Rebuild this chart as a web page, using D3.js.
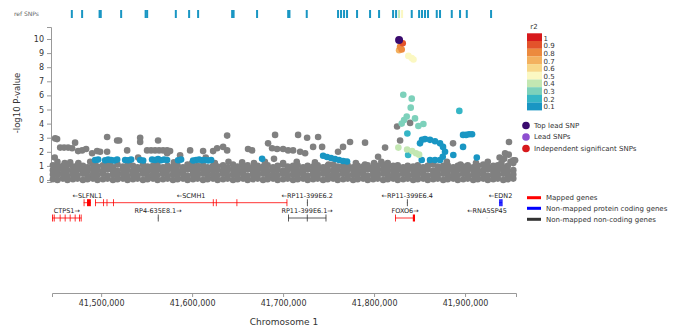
<!DOCTYPE html>
<html><head><meta charset="utf-8">
<script src="https://cdn.jsdelivr.net/npm/d3@7"></script>
<style>body{margin:0;background:#fff} text{font-family:"DejaVu Sans",sans-serif}</style>
</head><body><svg id="c" width="678" height="329"></svg>
<script>
// ---------- data (positions in kb on chromosome 1) ----------
const refPos = [41467.8,41479.1,41498.3,41499.6,41522.0,41548.9,41550.6,41582.1,41596.7,41606.6,41644.0,41645.6,41671.4,41705.6,41707.0,41726.0,41760.4,41763.7,41767.0,41770.3,41781.3,41795.6,41805.5,41820.9,41824.2,41827.5,41830.8,41841.4,41849.5,41852.7,41856.0,41859.3,41868.9,41872.5,41885.4,41894.5,41901.9,41928.6];
const refR2  = [0.1,0.1,0.1,0.1,0.1,0.1,0.1,0.1,0.1,0.1,0.1,0.1,0.1,0.1,0.1,0.1,0.1,0.1,0.1,0.1,0.1,0.1,0.1,0.1,0.1,0.4,0.55,0.1,0.1,0.1,0.1,0.1,0.1,0.1,0.1,0.1,0.1,0.1];

const grayBandPos = [41447,41452,41458,41463,41469,41474,41480,41485,41491,41496,41502,41507,41513,41518,41524,41529,41535,41540,41546,41551,41557,41562,41568,41573,41579,41584,41590,41595,41601,41606,41612,41617,41623,41628,41634,41639,41645,41650,41656,41661,41667,41672,41678,41683,41689,41694,41700,41705,41711,41716,41722,41727,41733,41738,41744,41749,41755,41760,41766,41771,41777,41782,41788,41793,41799,41804,41810,41815,41821,41826,41832,41837,41843,41848,41854,41859,41865,41870,41876,41881,41887,41892,41898,41903,41909,41914,41920,41925,41931,41936,41942,41947,41953];
const grayBandVals = [
[.05,.4,.7,1.05],[0,.35,.65,.95],[.1,.45,.75,1.0],[0,.3,.7,1.1],[.05,.4,.65,.95],[.1,.35,.75,1.05],[0,.45,.7,1.0],[.05,.3,.65,.9],[.1,.4,.75,1.1],[0,.35,.7,.95],
[.05,.45,.65,1.05],[.1,.3,.75,1.0],[0,.4,.7,.9],[.05,.35,.65,1.1],[.1,.45,.75,.95],[0,.3,.7,1.05],[.05,.4,.65,1.0],[.1,.35,.75,.9],[0,.45,.7,1.1],[.05,.3,.65,.95],
[.1,.4,.7,1.0],[0,.35,.75,1.05],[.05,.45,.65,.9],[.1,.3,.7,1.0],[0,.4,.75,.95],[.05,.35,.65,1.05],[.1,.45,.7,.9],[0,.3,.75,1.1],[.05,.4,.65,.95],[.1,.35,.7,1.0],
[0,.45,.75,1.05],[.05,.3,.65,.9],[.1,.4,.7,1.0],[0,.35,.75,.95],[.05,.45,.65,1.05],[.1,.3,.7,.9],[0,.4,.75,1.1],[.05,.35,.65,.95],[.1,.45,.7,1.0],[0,.3,.75,1.05],
[.05,.4,.65,.9],[.1,.35,.7,1.0],[0,.45,.75,.95],[.05,.3,.65,1.05],[.1,.4,.7,.9],[0,.35,.75,1.0],[.05,.45,.65,1.1],[.1,.3,.7,.95],[0,.4,.75,1.0],[.05,.35,.65,1.05],
[.1,.45,.7,.9],[0,.3,.75,1.0],[.05,.4,.65,.95],[.1,.35,.7,1.05],[0,.45,.75,.9],[.05,.3,.65,1.0],[.1,.4,.7,1.1],[0,.35,.75,.95],[.05,.45,.65,1.0],[.1,.3,.7,1.05],
[0,.4,.75,.9],[.05,.35,.65,1.0],[.1,.45,.7,.95],[0,.3,.75,1.05],[.05,.4,.65,.9],[.1,.35,.7,1.0],[0,.45,.75,1.1],[.05,.3,.65,.95],[.1,.4,.7,1.0],[0,.35,.75,1.05],
[.05,.45,.65,.9],[.1,.3,.7,1.0],[0,.4,.75,.95],[.05,.35,.65,1.05],[.1,.45,.7,.9],[0,.3,.75,1.0],[.05,.4,.65,1.1],[.1,.35,.7,.95],[0,.45,.75,1.0],[.05,.3,.65,1.05],
[.1,.4,.7,.9],[0,.35,.75,1.0],[.05,.45,.65,.95],[.1,.3,.7,1.05],[0,.4,.75,.9],[.05,.35,.65,1.0],[.1,.45,.7,1.1],[0,.3,.75,.95],[.05,.4,.65,1.0],[.1,.35,.7,1.05],
[0,.45,.75,.9],[.05,.3,.65,1.0],[.1,.4,.7,1.2]];

const grayPos = [41449,41452,41460,41466,41475,41488,41493,41510,41530,41560,41580,41600,41615,41625,41640,41655,41668,41680,41690,41700,41715,41735,41750,41768,41780,41790,41800,41808,41815,41862,41880,41895,41912,41925,41940,41950,41955,
41449.5,41451.6,41455.0,41459.3,41463.7,41468.1,41471.4,41474.7,41479.1,41483.5,41490.1,41495.6,41498.9,41506.6,41506.6,41517.6,41519.8,41528.6,41540.7,41542.9,41542.9,41550.5,41554.9,41559.3,41563.7,41568.1,41572.5,41575.8,41562.6,41572.5,41586.8,41597.8,41612.1,41623.1,41627.5,41638.5,41634.1,41638.5,41661.5,41665.9,41683.5,41691.2,41687.9,41693.4,41700.0,41705.5,41711.0,41716.5,41718.7,41724.2,41726.4,41738.5,41733.0,41742.9,41760.4,41765.9,41773.6,41790.1,41804.4,41812.1,41825.3,41828.6,41839.6,41886.8,41948.3,41944.0,41938,41943,41948,41953];
const grayVal = [1.6,1.3,1.2,1.25,1.2,1.3,1.15,1.25,1.2,1.15,1.25,1.2,1.6,1.2,1.3,1.25,1.2,1.3,1.5,1.2,1.3,1.25,1.1,1.3,1.2,1.1,1.2,1.3,1.2,1.2,1.3,1.1,1.2,1.3,1.2,1.3,1.4,
2.95,2.9,2.3,2.3,2.3,2.25,2.65,2.05,2.1,2.2,1.9,2.05,2.0,3.05,2.0,2.8,2.8,2.1,1.6,3.0,2.7,2.1,2.1,2.1,2.1,2.1,2.1,2.05,2.8,1.9,1.75,2.1,2.05,2.05,2.25,3.15,2.35,2.1,2.2,2.1,2.6,3.2,2.25,2.2,2.2,2.1,2.1,3.2,2.0,1.9,3.0,3.05,2.35,2.35,2.0,2.35,2.7,2.65,1.65,2.3,3.8,2.8,4.05,2.6,2.7,1.9,1.6,1.5,1.8,1.4];

const snpPos = [41831.5,41828.6,41827.5,41830.4,41837.7,41841.4,41843.3,41832.1,41841.4,41840.3,41893.7,41833.0,41835.9,41845.0,41848.7,41854.2,41830.4,41836.6,41826.7,41836.3,41841.8,41846.1,41849.5,41837.4,
41850.5,41852.7,41856.0,41861.5,41867.0,41872.5,41875.8,41878.0,41852.4,41861.5,41867.0,41872.5,41875.5,41887.1,41897.8,41901.1,41904.4,41907.7,41897.8,41912.9,
41493.4,41496.7,41504.4,41507.7,41511.0,41514.3,41517.6,41526.4,41529.7,41533.0,41542.9,41546.2,41556.0,41559.3,41562.6,41565.9,41569.2,41572.5,41584.6,41587.9,41601.1,41604.4,41607.7,41611.0,41614.3,41617.6,41620.9,
41676.9,41744.0,41748.3,41752.7,41757.1,41761.5,41765.9,41770.3];
const snpP = [9.7,9.45,9.2,9.25,8.8,8.65,8.55,6.05,5.77,5.13,4.9,4.25,4.5,4.37,3.83,3.97,4.0,3.3,2.3,2.16,2.05,1.9,1.8,1.77,
2.6,2.85,2.9,2.85,2.75,2.6,2.35,2.0,1.42,1.42,1.42,1.42,1.65,1.77,3.2,3.2,3.25,3.25,2.35,1.6,
1.42,1.45,1.4,1.45,1.42,1.38,1.45,1.42,1.4,1.45,1.42,1.38,1.45,1.42,1.48,1.4,1.45,1.42,1.4,1.45,1.38,1.42,1.45,1.4,1.42,1.38,1.42,
1.5,1.72,1.63,1.56,1.49,1.42,1.35,1.31];
const snpR2 = [0.95,0.85,0.75,0.8,0.55,0.52,0.55,0.3,0.3,0.3,0.2,0.3,0.3,0.3,0.3,0.3,0.3,0.2,0.4,0.4,0.4,0.4,0.4,0.2,
0.15,0.15,0.15,0.15,0.15,0.15,0.15,0.15,0.15,0.15,0.15,0.15,0.15,0.15,0.12,0.12,0.12,0.12,0.12,0.12,
0.1,0.1,0.1,0.1,0.1,0.1,0.1,0.1,0.1,0.1,0.1,0.1,0.1,0.1,0.1,0.1,0.1,0.1,0.1,0.1,0.1,0.1,0.1,0.1,0.1,0.1,0.1,
0.1,0.1,0.1,0.1,0.1,0.1,0.1,0.1];

const leadPos = [41827.5];
const leadP = [9.93];

const r2Labels = ["1","0.9","0.8","0.7","0.6","0.5","0.4","0.3","0.2","0.1"];
const r2Colors = ["#d7191c","#e3532b","#ec8a3e","#f3b15f","#f8d88a","#fbf8c2","#c3e7b2","#7dd1bb","#35b6c6","#1996c3"];

const leadLegend = ["Top lead SNP","Lead SNPs","Independent significant SNPs"];
const leadColors = ["#3a0a6e","#8e4fd0","#d7191c"];

const geneLegend = ["Mapped genes","Non-mapped protein coding genes","Non-mapped non-coding genes"];
const geneTypeColors = {mapped:"#ff0000", protein:"#0000ff", noncoding:"#333333"};

const geneNames  = ["SLFNL1","SCMH1","CTPS1","RP4-635E8.1","RP11-399E6.2","RP11-399E6.1","RP11-399E6.4","FOXO6","EDN2","RNA5SP45"];
const geneStart  = [41480.8,41493.4,41446.2,41562.3,41726.2,41705.5,41836.1,41823.1,41937.4,41924.0];
const geneEnd    = [41488.7,41704.4,41478.4,41562.9,41726.8,41747.3,41836.7,41845.0,41940.7,41924.3];
const geneStrand = ["-","-","+","+","-","+","-","+","-","-"];
const geneRow    = [0,0,1,1,0,1,0,1,0,1];
const geneType   = ["mapped","mapped","mapped","noncoding","noncoding","noncoding","noncoding","mapped","protein","noncoding"];
const geneExons  = [
 [[41480.8,41481.4],[41484.5,41488.7]],
 [[41493.4,41494.0],[41502.3,41502.9],[41506.0,41506.6],[41513.2,41513.8],[41622.8,41623.4],[41626.1,41626.7],[41648.8,41649.4],[41703.8,41704.4]],
 [[41446.2,41447.2],[41448.0,41448.6],[41454.5,41455.1],[41460.0,41460.6],[41465.5,41466.1],[41471.0,41471.6],[41475.8,41476.4],[41477.6,41478.4]],
 [[41562.3,41562.9]],
 [[41726.2,41726.8]],
 [[41705.5,41706.1],[41726.1,41726.7],[41746.7,41747.3]],
 [[41836.1,41836.7]],
 [[41823.1,41823.7],[41842.6,41845.0]],
 [[41937.4,41937.9],[41938.6,41939.1],[41939.8,41940.2],[41940.3,41940.7]],
 []
];

const xTicks = [41500,41600,41700,41800,41900];
const yTicks = [0,1,2,3,4,5,6,7,8,9,10];

// ---------- drawing ----------
const svg = d3.select("#c");
const x = d3.scaleLinear().domain([41446,41956]).range([52,516]);
const y = d3.scaleLinear().domain([-0.14,10.85]).range([182,27]);
const r2color = d3.scaleThreshold().domain([0.2,0.3,0.4,0.5,0.6,0.7,0.8,0.9,1.0]).range(r2Colors.slice().reverse());

// ref SNPs
svg.append("text").attr("x",14).attr("y",15.5).attr("font-size",6).attr("fill","#666").text("ref SNPs");
svg.append("g").selectAll("rect").data(refPos).join("rect")
  .attr("x",d=>x(d)-1).attr("y",10).attr("width",2).attr("height",8)
  .attr("fill",(d,i)=>r2color(refR2[i]));

// axes
const gy = svg.append("g").attr("transform","translate(51,0)")
  .call(d3.axisLeft(y).tickValues(yTicks).tickSize(4).tickSizeOuter(4));
const gx = svg.append("g").attr("transform","translate(0,293)")
  .call(d3.axisBottom(x).tickValues(xTicks).tickSize(4).tickSizeOuter(4).tickFormat(d=>d3.format(",")(d*1000)));
[gy,gx].forEach(g=>{
  g.select(".domain").attr("stroke","#999");
  g.selectAll(".tick line").attr("stroke","#999");
  g.selectAll(".tick text").attr("fill","#333").attr("font-size",8).attr("font-family","DejaVu Sans");
});
svg.append("text").attr("transform","translate(20,103) rotate(-90)").attr("text-anchor","middle")
  .attr("font-size",8.5).attr("fill","#333").text("-log10 P-value");
svg.append("text").attr("x",284).attr("y",325).attr("text-anchor","middle")
  .attr("font-size",9).attr("fill","#333").text("Chromosome 1");

// gray points
const grayPts = [];
grayBandPos.forEach((p,i)=>grayBandVals[i].forEach(v=>grayPts.push([p,v])));
grayPos.forEach((p,i)=>grayPts.push([p,grayVal[i]]));
svg.append("g").selectAll("circle").data(grayPts).join("circle")
  .attr("cx",d=>x(d[0])).attr("cy",d=>y(d[1])).attr("r",3.3).attr("fill","#808080");

// colored SNPs
const snps = snpPos.map((p,i)=>({p, v:snpP[i], r2:snpR2[i]})).sort((a,b)=>a.r2-b.r2);
svg.append("g").selectAll("circle").data(snps).join("circle")
  .attr("cx",d=>x(d.p)).attr("cy",d=>y(d.v)).attr("r",3.3).attr("fill",d=>r2color(d.r2));
svg.append("g").selectAll("circle").data(leadPos).join("circle")
  .attr("cx",d=>x(d)).attr("cy",(d,i)=>y(leadP[i])).attr("r",4).attr("fill",leadColors[0]);

// r2 colour bar
svg.append("text").attr("x",534).attr("y",29).attr("font-size",7).attr("fill","#333").attr("text-anchor","middle").text("r2");
const cb = svg.append("g");
r2Labels.forEach((l,i)=>{
  cb.append("rect").attr("x",527).attr("y",33.3+i*7.7).attr("width",15).attr("height",7.8).attr("fill",r2Colors[i]);
  cb.append("text").attr("x",543.5).attr("y",38.3+i*7.6).attr("dy","0.35em").attr("font-size",7).attr("fill","#333").text(l);
});

// lead legend
const leadY = [125.5,137,148.5];
leadLegend.forEach((l,i)=>{
  svg.append("circle").attr("cx",526).attr("cy",leadY[i]).attr("r",3.8).attr("fill",leadColors[i]);
  svg.append("text").attr("x",534).attr("y",leadY[i]).attr("dy","0.35em").attr("font-size",7).attr("fill","#333").text(l);
});

// gene legend
const glY = [197.7,208.3,219.3];
const glC = [geneTypeColors.mapped,geneTypeColors.protein,geneTypeColors.noncoding];
geneLegend.forEach((l,i)=>{
  svg.append("rect").attr("x",527).attr("y",glY[i]-1.5).attr("width",14).attr("height",3).attr("fill",glC[i]);
  svg.append("text").attr("x",546).attr("y",glY[i]).attr("dy","0.35em").attr("font-size",7).attr("fill","#333").text(l);
});

// genes
const rowLine = [202.7,218];
const rowLabel = [195.7,210.7];
const gg = svg.append("g");
geneNames.forEach((n,i)=>{
  const c = geneTypeColors[geneType[i]];
  const ly = rowLine[geneRow[i]];
  gg.append("line").attr("x1",x(geneStart[i])).attr("x2",x(geneEnd[i])).attr("y1",ly).attr("y2",ly)
    .attr("stroke",c).attr("stroke-width",0.8);
  geneExons[i].forEach(e=>{
    const w = Math.max(0.8, x(e[1])-x(e[0]));
    gg.append("rect").attr("x",x(e[0])).attr("y",ly-3.5).attr("width",w).attr("height",7).attr("fill",c);
  });
  const label = geneStrand[i]==="-" ? "\u2190"+n : n+"\u2192";
  gg.append("text").attr("x",x((geneStart[i]+geneEnd[i])/2)).attr("y",rowLabel[geneRow[i]]).attr("dy","0.35em")
    .attr("text-anchor","middle").attr("font-size",6.5).attr("fill","#222").text(label);
});
</script></body></html>
